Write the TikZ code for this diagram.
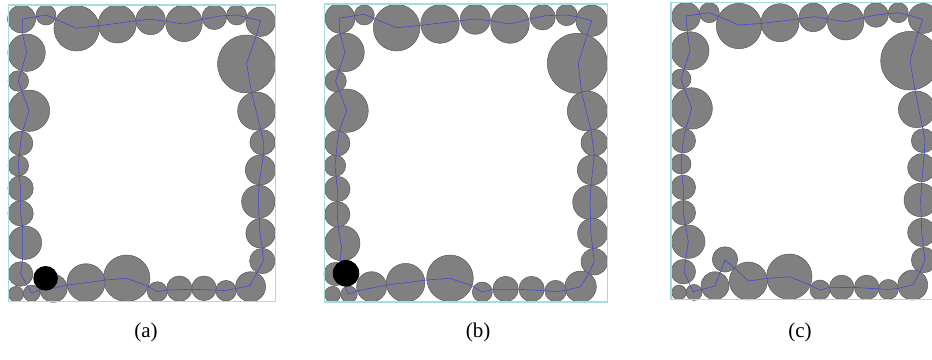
\documentclass[tikz,border=0pt]{standalone}
\usepackage{fontspec}
\setmainfont{Liberation Serif}
\usetikzlibrary{positioning}

\definecolor{wallcol}{RGB}{165,222,222}
\definecolor{ballgray}{RGB}{128,128,128}
\definecolor{routeblue}{RGB}{70,70,220}

\begin{document}
\begin{tikzpicture}[x=1pt,y=-1pt,
  ball/.style={fill=ballgray,draw=black!65,line width=0.5pt},
  wall/.style={draw=wallcol,line width=1.3pt},
  route/.style={draw=routeblue,line width=0.6pt,line join=round},
  caption/.style={font=\fontsize{21}{23}\selectfont}]

\clip (0,0) rectangle (932,359);

% (a)
\begin{scope}[shift={(8.3,5)}]
\foreach \x/\y/\r in {13.3/14/14, 37.7/10/10, 68.3/23.3/22.7, 109/19/19, 142.3/15/14.7, 175.7/18.3/18.3, 206/12.3/12.3, 228.3/10/10, 252.3/16.7/14.7,
    238.3/59/29, 248.3/106/19, 254.3/137.3/12.7, 252/165/15, 250/196.7/16.7, 252.3/228.3/14.7, 254/256/12.7, 242.3/281.7/15,
    217.7/285.7/10.3, 195.7/283.3/12.3, 171/283.7/12.7, 149/286.7/10, 118.3/273.3/23.3, 77.7/277.7/19, 45/283.3/14, 23.3/288.3/8.3, 7.7/289/7.7,
    12.3/269/12.3, 16.7/237.7/16.7, 12.3/208.3/12.7, 12.3/183.3/12.7, 10/160.7/10.3, 12.3/138.3/12.3, 20.7/105.7/20.7, 10/76/10.3, 18.3/47.7/18.7}
  \draw[ball] (\x,\y) circle (\r);
\draw[route] (14.3,14) -- (37.7,10) -- (68.3,23.3) -- (90.7,20.7) -- (127.7,15.7) -- (142.3,14.3) -- (157.3,16.3) -- (175.7,19)
  -- (194,14.3) -- (211.7,11) -- (228.3,10) -- (252.3,15.7) -- (248.3,30) -- (238.3,58.3) -- (243.3,87.7) -- (255,135)
  -- (255,150) -- (250.7,180) -- (250,196.7) -- (251.7,228.3) -- (254,243.3) -- (255,256) -- (248.3,268.3) -- (241.7,280.7)
  -- (228.3,283.3) -- (217.7,285.7) -- (207.7,285) -- (183.3,284.3) -- (158.3,285) -- (149,286.7) -- (139,281) -- (118.3,273.3)
  -- (96.7,275) -- (77.7,277.7) -- (59,280) -- (45,283.3) -- (31,285) -- (23.3,288.3) -- (12.3,269) -- (14.3,254.3)
  -- (14.3,221.7) -- (12.3,208.3) -- (12.3,183.3) -- (10,160.7) -- (12.3,138.3) -- (14.3,126.7) -- (20.7,105.7) -- (10,76)
  -- (18.3,47.7) -- (14.3,29) -- cycle;
\fill (37.3,273.3) circle (12.3);
\draw[wall] (0,0) rectangle (267,296.7);
\end{scope}

% (b)
\begin{scope}[shift={(324.3,4)}]
\foreach \x/\y/\r in {15.7/14.3/15, 40/11/10, 72.3/23.7/23.3, 115.7/20/19.3, 151/15.3/15, 185.7/20/19.3, 218.3/13.3/12.7, 242.3/11/10.7, 267.3/16.7/15.7,
    253/59.3/30, 263/107/20, 270/138.7/13.3, 268/166/15, 265.7/198.3/17.3, 268.3/229.3/15, 270/257.7/13.3, 256.3/282.7/15.7,
    231.3/287/10.7, 207.3/285/12.7, 181.3/285/12.7, 158/288/10, 125.7/274.3/23.3, 81.3/278.7/19.3, 47.3/282.7/15, 24.7/290.3/8.3, 8.3/290.3/8,
    11.3/270/11.7, 18/239.3/17.7, 13/210.3/12.7, 13/185/12.7, 10.7/161.7/10.7, 13/139.3/12.7, 22.3/106.7/21.7, 11.3/77/10.7, 20.7/48.3/19.3}
  \draw[ball] (\x,\y) circle (\r);
\draw[route] (14.7,14.3) -- (40,10.3) -- (72.3,23.7) -- (96.7,21.3) -- (135.7,16.7) -- (151,15) -- (166.3,16.7) -- (185.7,20)
  -- (205.7,15) -- (220.7,11.7) -- (242.3,11) -- (252.3,12.7) -- (267.3,16.7) -- (262.3,32.7) -- (254,59.3) -- (257.3,88.7)
  -- (266.7,126) -- (270,151) -- (266.7,181) -- (265.7,198.3) -- (266.7,229.3) -- (268.3,244.3) -- (270,257.7) -- (264,270)
  -- (256.3,282.7) -- (242.3,286) -- (231.3,287.7) -- (220.7,286.7) -- (194.7,285.3) -- (169,285.3) -- (158,288) -- (148,282)
  -- (125.7,274.3) -- (102.3,276) -- (81.3,278.7) -- (62.3,281) -- (34,286.7) -- (24,290) -- (20.7,282.7) -- (15.7,259.3)
  -- (17.3,242.7) -- (14,224.3) -- (13,210.3) -- (13,185) -- (10.7,161.7) -- (13,139.3) -- (14.7,127.7) -- (22.3,106.7)
  -- (11.3,77) -- (20.7,48.3) -- (15.7,29.3) -- cycle;
\fill (21.7,269.3) circle (13.3);
\draw[wall] (0,0) rectangle (283,298);
\end{scope}

% (c)
\begin{scope}[shift={(671,2.7)}]
\foreach \x/\y/\r in {15/14/14.3, 38.3/10/10, 68/23.3/22.7, 109/20/19, 142.3/14.7/14.3, 174.7/19/18.3, 205/12.3/12.3, 227.3/10/10, 252.3/15.7/15,
    239/58/29.3, 245.7/106.7/18.3, 252.3/138/12, 250.7/165/14, 249.7/197.3/16.7, 250.7/229.7/14, 253/257.3/12.7, 241.7/282.3/15,
    217.3/286.7/10, 195.7/284.7/12.3, 170.7/284.7/12.3, 149/287.3/10, 118.3/274/22.7, 77.3/278.3/19, 44/283/14, 23/289.7/8, 8/289.7/7.3,
    54/256.7/12.7,
    12.3/269/12.3, 17.3/239/16.7, 12.3/210/12.3, 12.3/184.7/12.3, 10/161.3/10, 12.3/138/12.3, 20.7/105.7/20.7, 10/76.3/10, 19/48/19}
  \draw[ball] (\x,\y) circle (\r);
\draw[route] (15,13.3) -- (38.3,10) -- (68,22.3) -- (90.7,20.7) -- (127.3,16.3) -- (142.3,14) -- (157.3,16.3) -- (174.7,19)
  -- (193,14.7) -- (205,12.3) -- (227.3,10) -- (237.3,12.3) -- (251.7,16.7) -- (245.7,34) -- (239,58) -- (244,87.3)
  -- (254,137.3) -- (253.3,150.7) -- (250.7,180.7) -- (249.7,197.3) -- (250.7,229.7) -- (252.3,244) -- (254,257.3) -- (249,269)
  -- (241.7,282.3) -- (227.3,285.7) -- (217.3,286.7) -- (182.3,284.7) -- (157.3,285) -- (149,287.3) -- (139,282.3) -- (118.3,274)
  -- (96.3,275.7) -- (77.3,278.3) -- (65.7,267.3) -- (54,257.3) -- (44,283.3) -- (22.3,289) -- (19,282.3) -- (13,269)
  -- (17.3,239) -- (12.3,210) -- (12.3,184.7) -- (10,161.3) -- (12.3,138) -- (15,125.7) -- (20.7,105.7) -- (10,76.3)
  -- (19,48) -- (16.3,29) -- cycle;
\draw[wall] (0,0) rectangle (267,297);
\end{scope}

\node[caption] (capa) at (146,332) {(a)};
\node[caption] (capb) at (478,332) {(b)};
\node[caption] (capc) at (800,332) {(c)};

\end{tikzpicture}
\end{document}
